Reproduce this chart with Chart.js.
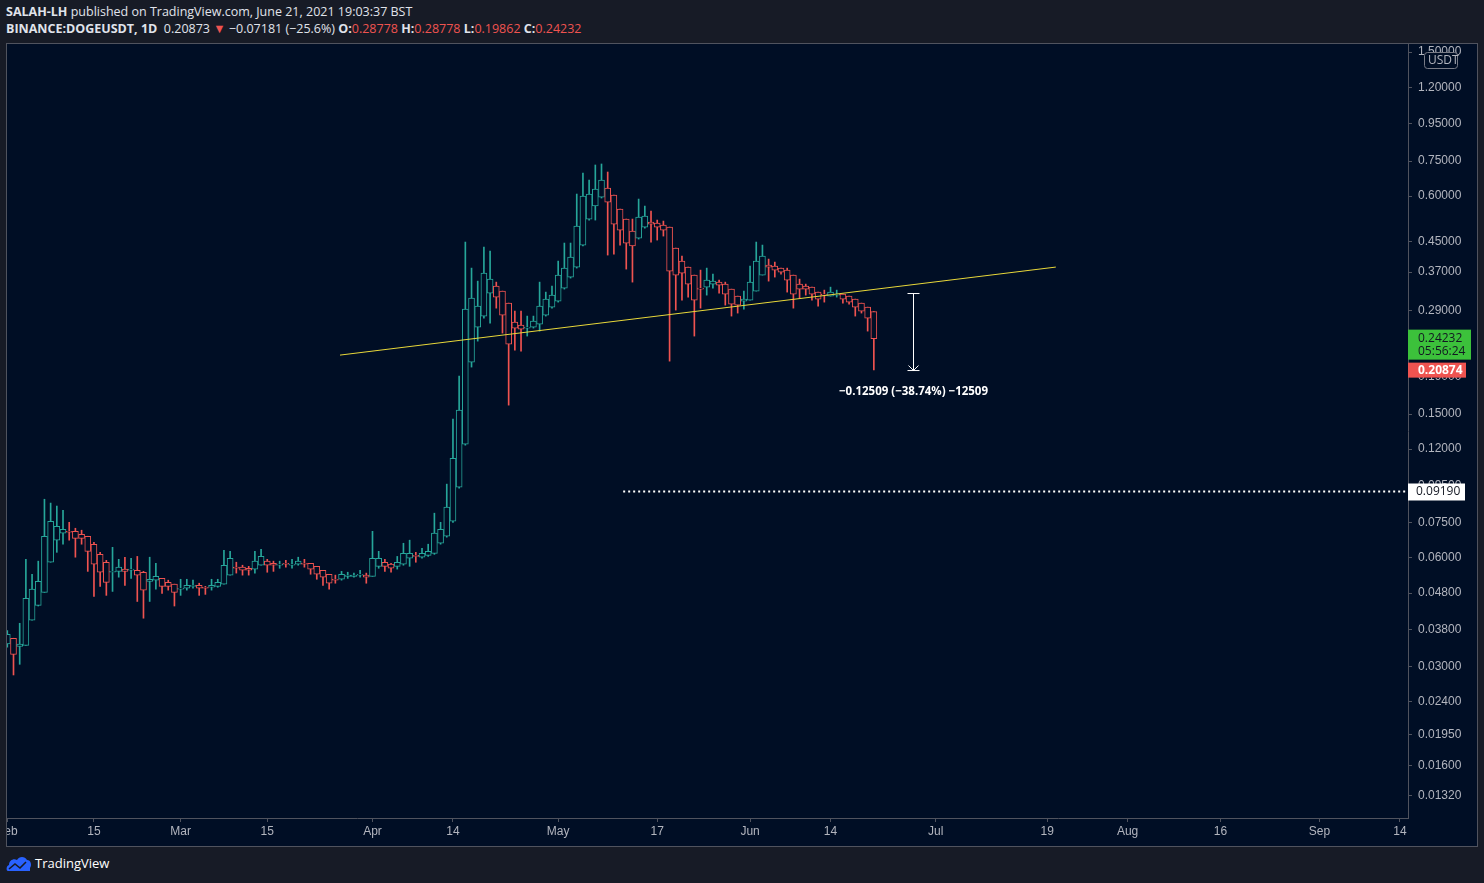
<!DOCTYPE html>
<html>
<head>
<meta charset="utf-8">
<script src="https://cdn.jsdelivr.net/npm/chart.js@4/dist/chart.umd.min.js"></script>
<style>
  body { margin: 0; background: #171b26; width: 1484px; height: 883px; overflow: hidden; font-family: "Open Sans", "Noto Sans", sans-serif; color: #d1d4dc; }
  #hdr { position: absolute; left: 6px; top: 3px; font-size: 12.5px; line-height: 17px; color: #e0e3eb; }
  #hdr b { font-weight: 700; }
  #hdr .r { color: #ef5350; }
  #frame { position: absolute; left: 6px; top: 43px; width: 1470px; height: 802px; border: 1px solid #50535e; background: #000e25; }
  #logo { position: absolute; left: 6px; top: 854px; font-size: 13px; color: #fff; display: flex; align-items: center; gap: 3px; }
</style>
</head>
<body>
<div id="hdr">
  <div><b>SALAH-LH</b> published on TradingView.com, June 21, 2021 19:03:37 BST</div>
  <div><b>BINANCE:DOGEUSDT, 1D</b>&nbsp; 0.20873 <span class="r">▼</span> −0.07181 (−25.6%) <b>O:</b><span class="r">0.28778</span> <b>H:</b><span class="r">0.28778</span> <b>L:</b><span class="r">0.19862</span> <b>C:</b><span class="r">0.24232</span></div>
</div>
<div id="frame"><canvas id="chart" width="1470" height="802"></canvas></div>
<div id="logo">
  <svg width="26" height="18" viewBox="0 0 26 18"><path d="M2 17 C0 17 0 12 3 11 C3 6 8 4 11 6 C13 2 19 2 21 6 C25 6 26 11 24 14 L24 17 Z" fill="#2962ff"/><path d="M3 15 L9 10 L14 14 L20 8" stroke="#171b26" stroke-width="1.6" fill="none"/></svg>
  <span>TradingView</span>
</div>
<script>
// daily candles, index 0 = Feb 1 2021
const opens = [
  .0347,.0360,.0342,.0344,.0404,.0444,.0482,.0584,.0672,.0703,
  .0711,.0711,.0698,.0689,.0655,.0614,.0584,.0548,.0551,.0559,
  .0555,.0555,.0548,.0517,.0521,.0527,.0514,.0508,.0492,.0495,
  .0501,.0504,.0498,.0498,.0501,.0508,.0538,.0566,.0566,.0562,
  .0559,.0573,.0588,.0580,.0573,.0580,.0573,.0577,.0580,.0580,
  .0569,.0555,.0541,.0524,.0524,.0534,.0534,.0538,.0538,.0534,
  .0569,.0584,.0577,.0569,.0577,.0599,.0610,.0603,.0610,.0618,
  .0659,.0689,.0758,.0942,.1238,.2087,.2608,.2797,.3237,.3385,
  .3279,.3038,.2692,.2641,.2591,.2608,.2658,.2815,.2961,.3076,
  .3342,.3585,.3821,.4395,.5186,.5634,.5966,.6318,.6043,.5526,
  .5186,.4804,.4595,.4929,.5088,.5056,.4992,.4929,.4312,.3969,
  .3821,.3631,.3342,.3363,.3428,.3472,.3428,.3321,.3176,.3076,
  .3096,.3279,.3631,.3870,.3845,.3796,.3748,.3631,.3428,.3385,
  .3363,.3258,.3217,.3176,.3196,.3217,.3176,.3116,.3038,.2961,
  .28778
];
const highs = [
  .0378,.0360,.0396,.0595,.0541,.0588,.0872,.0851,.0835,.0813,
  .0753,.0725,.0716,.0689,.0663,.0622,.0591,.0642,.0595,.0603,
  .0599,.0606,.0551,.0603,.0580,.0527,.0521,.0508,.0524,.0524,
  .0521,.0511,.0501,.0524,.0524,.0630,.0626,.0584,.0573,.0569,
  .0626,.0634,.0595,.0588,.0588,.0591,.0595,.0603,.0595,.0580,
  .0569,.0555,.0541,.0538,.0551,.0548,.0545,.0555,.0545,.0711,
  .0626,.0595,.0580,.0606,.0659,.0672,.0622,.0638,.0655,.0798,
  .0753,.0960,.1452,.1909,.4480,.3796,.3494,.4340,.4230,.3472,
  .3279,.3038,.2887,.2887,.2797,.2797,.3472,.3258,.3385,.3969,
  .4452,.4452,.6081,.6952,.6648,.7316,.7363,.6996,.6043,.5526,
  .5186,.5186,.5890,.5634,.5456,.5153,.5120,.4929,.4312,.4098,
  .3821,.3631,.3748,.3796,.3654,.3516,.3472,.3321,.3176,.3279,
  .3845,.4480,.4395,.4020,.3944,.3796,.3796,.3631,.3539,.3428,
  .3363,.3258,.3300,.3363,.3300,.3217,.3176,.3116,.3038,.2961,
  .28778
];
const lows = [
  .0340,.0285,.0305,.0344,.0404,.0442,.0482,.0584,.0622,.0655,
  .0672,.0603,.0655,.0551,.0470,.0501,.0473,.0485,.0531,.0504,
  .0527,.0455,.0409,.0455,.0492,.0479,.0489,.0442,.0473,.0489,
  .0495,.0473,.0476,.0489,.0498,.0508,.0538,.0545,.0538,.0538,
  .0545,.0573,.0548,.0551,.0562,.0566,.0562,.0573,.0566,.0541,
  .0524,.0504,.0492,.0511,.0521,.0527,.0531,.0531,.0511,.0534,
  .0562,.0551,.0548,.0559,.0573,.0569,.0584,.0599,.0606,.0614,
  .0655,.0685,.0753,.0936,.1230,.2022,.2385,.2761,.2675,.2942,
  .2510,.1587,.2252,.2237,.2463,.2591,.2542,.2797,.2942,.3057,
  .3321,.3562,.3796,.4368,.5153,.5153,.5928,.4124,.4150,.4395,
  .3772,.3472,.4566,.4897,.4480,.4537,.4654,.2100,.2906,.3096,
  .3156,.2463,.2942,.3196,.3342,.3237,.2999,.2797,.2851,.2924,
  .3096,.3279,.3631,.3494,.3585,.3654,.3258,.2942,.3136,.3196,
  .3096,.2980,.3057,.3176,.3156,.3038,.3019,.2797,.2851,.2542,
  .19862
];
const closes = [
  .0369,.0325,.0347,.0464,.0492,.0517,.0689,.0758,.0734,.0720,
  .0707,.0680,.0680,.0626,.0577,.0548,.0514,.0551,.0566,.0551,
  .0559,.0538,.0489,.0524,.0534,.0501,.0501,.0482,.0495,.0504,
  .0504,.0495,.0495,.0504,.0514,.0573,.0599,.0562,.0555,.0555,
  .0588,.0606,.0573,.0573,.0577,.0577,.0577,.0588,.0577,.0559,
  .0541,.0531,.0511,.0521,.0541,.0538,.0538,.0541,.0531,.0599,
  .0599,.0569,.0562,.0584,.0618,.0618,.0606,.0618,.0626,.0703,
  .0720,.0829,.1132,.1537,.2924,.3136,.2980,.3678,.3539,.3156,
  .2815,.2340,.2591,.2575,.2608,.2709,.2980,.3116,.3196,.3631,
  .3796,.4071,.4960,.6004,.6081,.6278,.6648,.5779,.5024,.4835,
  .4452,.4368,.5252,.5286,.5024,.4929,.4835,.3724,.3631,.3678,
  .3428,.3096,.3321,.3516,.3494,.3406,.3217,.3019,.2999,.3116,
  .3472,.3969,.4098,.3821,.3748,.3701,.3516,.3217,.3321,.3321,
  .3217,.3116,.3196,.3258,.3217,.3116,.3057,.2961,.2887,.2761,
  .24232
];

// axis ticks
const priceTicks = [1.5, 1.2, 0.95, 0.75, 0.6, 0.45, 0.37, 0.29, 0.24, 0.19, 0.15, 0.12, 0.095, 0.075, 0.06, 0.048, 0.038, 0.03, 0.024, 0.0195, 0.016, 0.0132];
const dateTickDays = [0, 14, 28, 42, 59, 72, 89, 105, 120, 133, 150, 168, 181, 196, 212, 225];
const dateTickLabels = ["Feb", "15", "Mar", "15", "Apr", "14", "May", "17", "Jun", "14", "Jul", "19", "Aug", "16", "Sep", "14"];

// drawings
const trendX = [53.75, 169.4];
const trendY = [0.2182, 0.3821];
const measureDay = 146.3;
const measureFrom = 0.3229;
const measureTo = 0.1978;
const measureText = "−0.12509 (−38.74%) −12509";
const levelPrice = 0.0919;
const levelFromDay = 99.5;
const lastClose = 0.24232;
const lastPrice = 0.20874;
const countdown = "05:56:24";

const GREEN = "#26a69a", RED = "#ef5350", BG = "#000e25";
const colors = opens.map((o, i) => closes[i] >= o ? GREEN : RED);

const wicks = opens.map((o, i) => ({ x: i, y: [lows[i], highs[i]] }));
const bodies = opens.map((o, i) => {
  let a = Math.min(o, closes[i]), b = Math.max(o, closes[i]);
  if (b / a < 1.004) { a = a / 1.002; b = b * 1.002; }
  return { x: i, y: [a, b] };
});

const overlay = {
  id: "overlay",
  afterDatasetsDraw(chart) {
    const ctx = chart.ctx, x = chart.scales.x, y = chart.scales.y, ca = chart.chartArea;
    ctx.save();
    // dotted level
    const ly = Math.round(y.getPixelForValue(levelPrice)) + 0.5;
    ctx.strokeStyle = "#ffffff"; ctx.lineWidth = 2; ctx.setLineDash([2, 3]);
    ctx.beginPath(); ctx.moveTo(x.getPixelForValue(levelFromDay), ly); ctx.lineTo(ca.right, ly); ctx.stroke();
    ctx.setLineDash([]);
    // measure arrow
    const mx = Math.round(x.getPixelForValue(measureDay)) + 0.5;
    const y1 = y.getPixelForValue(measureFrom), y2 = y.getPixelForValue(measureTo);
    ctx.lineWidth = 1;
    ctx.beginPath();
    ctx.moveTo(mx, y1); ctx.lineTo(mx, y2);
    ctx.moveTo(mx - 6, y1); ctx.lineTo(mx + 6, y1);
    ctx.moveTo(mx - 6, y2); ctx.lineTo(mx + 6, y2);
    ctx.moveTo(mx - 5, y2 - 5); ctx.lineTo(mx, y2); ctx.lineTo(mx + 5, y2 - 5);
    ctx.stroke();
    ctx.fillStyle = "#ffffff"; ctx.font = "bold 11.5px 'Open Sans', sans-serif";
    ctx.textAlign = "center"; ctx.textBaseline = "middle";
    ctx.fillText(measureText, mx, y2 + 21);
    // axis labels
    const ax = ca.right;
    ctx.textAlign = "left"; ctx.font = "12px 'Open Sans', sans-serif";
    ctx.fillStyle = "#ffffff"; ctx.fillRect(ax, ly - 8, 57, 17);
    ctx.fillStyle = "#131722"; ctx.fillText(levelPrice.toFixed(5), ax + 8, ly + 0.5);
    const gy = y.getPixelForValue(lastClose);
    ctx.fillStyle = "#3cc13b"; ctx.fillRect(ax, gy - 9, 63, 30);
    ctx.fillStyle = "#131722"; ctx.fillText(lastClose.toFixed(5), ax + 10, gy);
    ctx.fillText(countdown, ax + 10, gy + 13);
    // last price label pushed below the close label, as the terminal does
    const ry = Math.max(y.getPixelForValue(lastPrice), gy + 31);
    ctx.fillStyle = RED; ctx.fillRect(ax, ry - 7, 58, 15);
    ctx.fillStyle = "#ffffff"; ctx.font = "bold 12px 'Open Sans', sans-serif";
    ctx.fillText(lastPrice.toFixed(5), ax + 10, ry + 0.5);
    // currency box
    ctx.fillStyle = BG; ctx.strokeStyle = "#787b86";
    ctx.beginPath(); ctx.roundRect(ax + 16.5, 8.5, 33, 16, 3); ctx.fill(); ctx.stroke();
    ctx.fillStyle = "#b2b5be"; ctx.font = "12px 'Open Sans', sans-serif";
    ctx.fillText("USDT", ax + 20, 17);
    ctx.restore();
  }
};

const ctx = document.getElementById("chart").getContext("2d");
new Chart(ctx, {
  type: "bar",
  data: {
    datasets: [
      { type: "line", data: trendX.map((d, i) => ({ x: d, y: trendY[i] })), borderColor: "#e8d83a", borderWidth: 1, pointRadius: 0, order: 0 },
      { data: bodies, backgroundColor: BG, borderColor: colors, borderWidth: 1, borderSkipped: false, barThickness: 6, grouped: false, order: 1 },
      { data: wicks, backgroundColor: colors, borderWidth: 0, barThickness: 1, grouped: false, order: 2 }
    ]
  },
  options: {
    responsive: false,
    animation: false,
    layout: { padding: 0 },
    plugins: { legend: { display: false }, tooltip: { enabled: false } },
    scales: {
      x: {
        type: "linear", min: -0.05, max: 226.3, offset: false,
        afterBuildTicks: s => { s.ticks = dateTickDays.map(v => ({ value: v })); },
        afterFit: s => { s.height = 28; s.paddingLeft = 0; s.paddingRight = 0; },
        ticks: { color: "#b2b5be", font: { size: 12 }, maxRotation: 0, autoSkip: false, padding: 2,
          callback: (v) => dateTickLabels[dateTickDays.indexOf(v)] },
        grid: { drawOnChartArea: false, color: "#50535e", tickLength: 4, offset: false },
        border: { color: "#50535e" }
      },
      y: {
        type: "logarithmic", position: "right", min: 0.01147, max: 1.58,
        afterBuildTicks: s => { s.ticks = priceTicks.map(v => ({ value: v })); },
        afterFit: s => { s.width = 69; s.paddingTop = 0; s.paddingBottom = 0; },
        ticks: { color: "#b2b5be", font: { size: 12 }, padding: 6, callback: v => Number(v).toFixed(5) },
        grid: { drawOnChartArea: false, color: "#50535e", tickLength: 4 },
        border: { color: "#50535e" }
      }
    }
  },
  plugins: [overlay]
});
</script>
</body>
</html>
